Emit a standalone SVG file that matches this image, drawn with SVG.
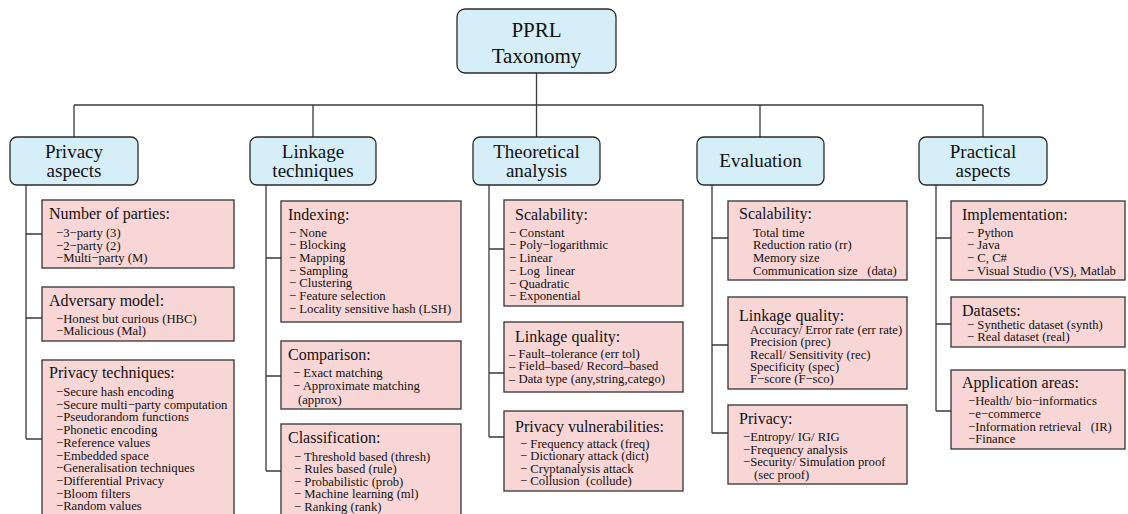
<svg xmlns="http://www.w3.org/2000/svg" width="1128" height="514" viewBox="0 0 1128 514">
<style>
.cat{fill:#d6eef8;stroke:#2a2a2a;stroke-width:1.3}
.leaf{fill:#f9d6d6;stroke:#333;stroke-width:1.3}
.conn{stroke:#3a3a3a;stroke-width:1.3;fill:none}
text{font-family:"Liberation Serif","Times New Roman",serif;fill:#111;white-space:pre}
.top{font-size:21px;text-anchor:middle}
.ct{font-size:19px;text-anchor:middle}
.h{font-size:16px}
.i{font-size:12.7px}
</style>
<rect width="1128" height="514" fill="#fff"/>
<g id="connectors" class="conn">
<path d="M536.5 73V137M74 105H983M74 105V137M313 105V137M760 105V137M983 105V137"/>
<path d="M26 185V439M26 234H42M26 318H42M26 439H42"/>
<path d="M266 185V471M266 258H281M266 376H281M266 471H281"/>
<path d="M489 185V437M489 249H504M489 373H504M489 437H504"/>
<path d="M712 185V433M712 238H728M712 345H728M712 433H728"/>
<path d="M936 185V411M936 238H951M936 324H951M936 411H951"/>
</g>
<g id="root"><rect class="cat" x="457" y="9" width="159" height="64" rx="8"/><text class="top" x="536.5" y="37">PPRL</text><text class="top" x="536.5" y="63">Taxonomy</text></g>
<g id="privacy"><rect class="cat" x="10" y="137" width="128" height="48" rx="7"/><text class="ct" x="74" y="158">Privacy</text><text class="ct" x="74" y="177">aspects</text></g>
<g id="linkage"><rect class="cat" x="250" y="137" width="126" height="48" rx="7"/><text class="ct" x="313" y="158">Linkage</text><text class="ct" x="313" y="177">techniques</text></g>
<g id="theoretical"><rect class="cat" x="473" y="137" width="127" height="48" rx="7"/><text class="ct" x="536.5" y="158">Theoretical</text><text class="ct" x="536.5" y="177">analysis</text></g>
<g id="evaluation"><rect class="cat" x="697" y="137" width="127" height="48" rx="7"/><text class="ct" x="760.5" y="167">Evaluation</text></g>
<g id="practical"><rect class="cat" x="919" y="137" width="128" height="48" rx="7"/><text class="ct" x="983" y="158">Practical</text><text class="ct" x="983" y="177">aspects</text></g>

<g id="num-parties"><rect class="leaf" x="42" y="200" width="192" height="68"/>
<text class="h" x="49" y="219">Number of parties:</text>
<text class="i" x="56" y="237">−3−party (3)</text>
<text class="i" x="56" y="249.5">−2−party (2)</text>
<text class="i" x="56" y="262">−Multi−party (M)</text></g>
<g id="adversary"><rect class="leaf" x="42" y="287" width="192" height="54"/>
<text class="h" x="49" y="306">Adversary model:</text>
<text class="i" x="56" y="322.5">−Honest but curious (HBC)</text>
<text class="i" x="56" y="335">−Malicious (Mal)</text></g>
<g id="privacy-tech"><rect class="leaf" x="42" y="360" width="192" height="160"/>
<text class="h" x="49" y="378">Privacy techniques:</text>
<text class="i" x="56" y="396">−Secure hash encoding</text>
<text class="i" x="56" y="408.7">−Secure multi−party computation</text>
<text class="i" x="56" y="421.4">−Pseudorandom functions</text>
<text class="i" x="56" y="434.1">−Phonetic encoding</text>
<text class="i" x="56" y="446.8">−Reference values</text>
<text class="i" x="56" y="459.5">−Embedded space</text>
<text class="i" x="56" y="472.2">−Generalisation techniques</text>
<text class="i" x="56" y="484.9">−Differential Privacy</text>
<text class="i" x="56" y="497.6">−Bloom filters</text>
<text class="i" x="56" y="510.3">−Random values</text></g>

<g id="indexing"><rect class="leaf" x="281" y="201" width="180" height="121"/>
<text class="h" x="288" y="220">Indexing:</text>
<text class="i" x="289" y="236.5">− None</text>
<text class="i" x="289" y="249.2">− Blocking</text>
<text class="i" x="289" y="261.9">− Mapping</text>
<text class="i" x="289" y="274.6">− Sampling</text>
<text class="i" x="289" y="287.3">− Clustering</text>
<text class="i" x="289" y="300">− Feature selection</text>
<text class="i" x="289" y="312.7">− Locality sensitive hash (LSH)</text></g>
<g id="comparison"><rect class="leaf" x="281" y="341" width="180" height="68"/>
<text class="h" x="288" y="360">Comparison:</text>
<text class="i" x="293" y="377">− Exact matching</text>
<text class="i" x="293" y="389.5">− Approximate matching</text>
<text class="i" x="298" y="404">(approx)</text></g>
<g id="classification"><rect class="leaf" x="281" y="424" width="180" height="96"/>
<text class="h" x="288" y="443">Classification:</text>
<text class="i" x="294" y="460.5">− Threshold based (thresh)</text>
<text class="i" x="294" y="473">− Rules based (rule)</text>
<text class="i" x="294" y="485.5">− Probabilistic (prob)</text>
<text class="i" x="294" y="498">− Machine learning (ml)</text>
<text class="i" x="294" y="510.5">− Ranking (rank)</text></g>

<g id="th-scal"><rect class="leaf" x="504" y="200" width="179" height="106"/>
<text class="h" x="515" y="220">Scalability:</text>
<text class="i" x="509" y="236.5">− Constant</text>
<text class="i" x="509" y="249">− Poly−logarithmic</text>
<text class="i" x="509" y="262">− Linear</text>
<text class="i" x="509" y="274.5">− Log  linear</text>
<text class="i" x="509" y="287.5">− Quadratic</text>
<text class="i" x="509" y="300">− Exponential</text></g>
<g id="th-link"><rect class="leaf" x="504" y="322" width="179" height="70"/>
<text class="h" x="515" y="341.5">Linkage quality:</text>
<text class="i" x="509" y="357.5">– Fault–tolerance (err tol)</text>
<text class="i" x="509" y="370">– Field–based/ Record–based</text>
<text class="i" x="509" y="382.5">– Data type (any,string,catego)</text></g>
<g id="th-priv"><rect class="leaf" x="504" y="411" width="179" height="80"/>
<text class="h" x="515" y="432">Privacy vulnerabilities:</text>
<text class="i" x="520" y="447.5">− Frequency attack (freq)</text>
<text class="i" x="520" y="460">− Dictionary attack (dict)</text>
<text class="i" x="520" y="472.5">− Cryptanalysis attack</text>
<text class="i" x="520" y="485">− Collusion  (collude)</text></g>

<g id="ev-scal"><rect class="leaf" x="728" y="201" width="179" height="79"/>
<text class="h" x="739" y="219">Scalability:</text>
<text class="i" x="753" y="236.5">Total time</text>
<text class="i" x="753" y="249">Reduction ratio (rr)</text>
<text class="i" x="753" y="262">Memory size</text>
<text class="i" x="753" y="274.5">Communication size   (data)</text></g>
<g id="ev-link"><rect class="leaf" x="728" y="297" width="179" height="92"/>
<text class="h" x="739" y="320.5">Linkage quality:</text>
<text class="i" x="750" y="334">Accuracy/ Error rate (err rate)</text>
<text class="i" x="750" y="346.3">Precision (prec)</text>
<text class="i" x="750" y="358.6">Recall/ Sensitivity (rec)</text>
<text class="i" x="750" y="370.9">Specificity (spec)</text>
<text class="i" x="750" y="383.2">F−score (F−sco)</text></g>
<g id="ev-priv"><rect class="leaf" x="728" y="405" width="179" height="79"/>
<text class="h" x="739" y="424">Privacy:</text>
<text class="i" x="743" y="441">−Entropy/ IG/ RIG</text>
<text class="i" x="743" y="453.5">−Frequency analysis</text>
<text class="i" x="743" y="466">−Security/ Simulation proof</text>
<text class="i" x="754" y="479">(sec proof)</text></g>

<g id="pr-impl"><rect class="leaf" x="951" y="201" width="174" height="79"/>
<text class="h" x="962" y="220">Implementation:</text>
<text class="i" x="967" y="236.5">− Python</text>
<text class="i" x="967" y="248.5">− Java</text>
<text class="i" x="967" y="262">− C, C#</text>
<text class="i" x="967" y="274.5">− Visual Studio (VS), Matlab</text></g>
<g id="pr-data"><rect class="leaf" x="951" y="297" width="174" height="50"/>
<text class="h" x="962" y="316">Datasets:</text>
<text class="i" x="967" y="329">− Synthetic dataset (synth)</text>
<text class="i" x="967" y="341">− Real dataset (real)</text></g>
<g id="pr-app"><rect class="leaf" x="951" y="370" width="174" height="79"/>
<text class="h" x="962" y="388">Application areas:</text>
<text class="i" x="968" y="405">−Health/ bio−informatics</text>
<text class="i" x="968" y="417.5">−e−commerce</text>
<text class="i" x="968" y="431">−Information retrieval   (IR)</text>
<text class="i" x="968" y="443">−Finance</text></g>
</svg>
